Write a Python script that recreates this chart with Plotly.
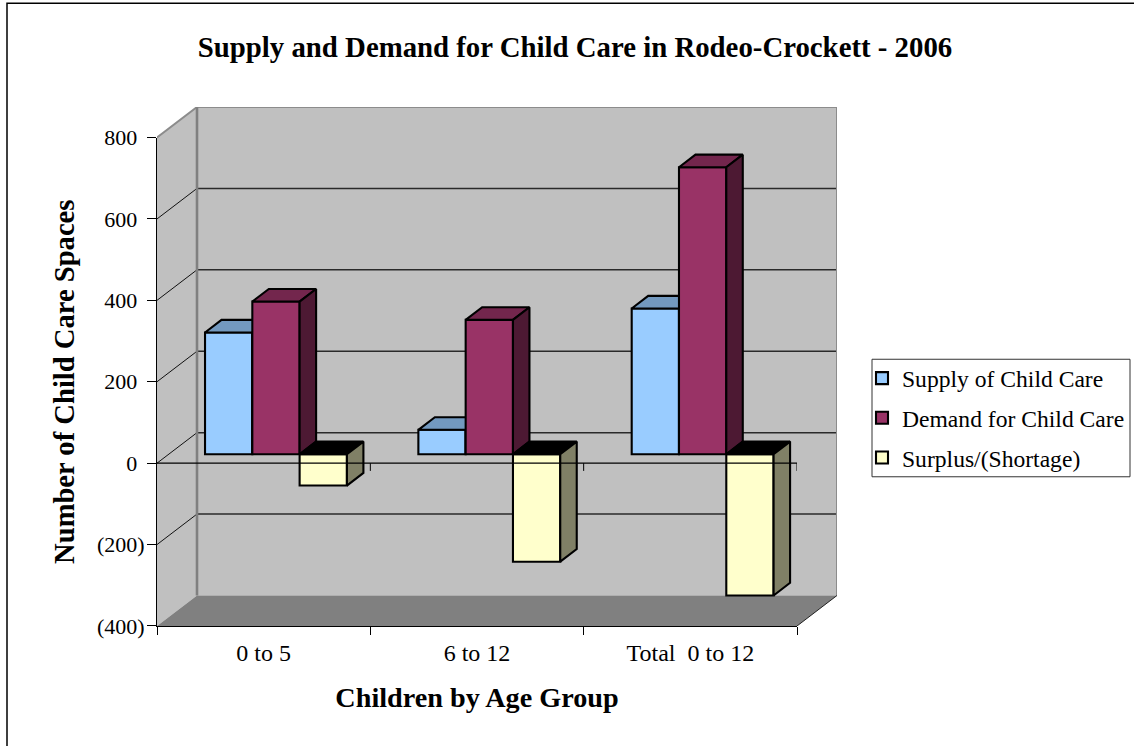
import plotly.graph_objects as go

# ---- data ----
categories = ["0 to 5", "6 to 12", "Total  0 to 12"]
supply = [299, 60, 358]
demand = [375, 330, 705]
surplus = [-77, -264, -347]
y_ticks = [800, 600, 400, 200, 0, -200, -400]
# positive labels keep a gap the width of ")" so the digits line up with the bracketed ones
y_tick_labels = ["800\u2004", "600\u2004", "400\u2004", "200\u2004", "0\u2004", "(200)", "(400)"]
series_names = ["Supply of Child Care", "Demand for Child Care", "Surplus/(Shortage)"]

# ---- style / projection (in axis units) ----
WALL_DX, WALL_DY = 0.1875, 75      # depth of chart box
BAR_DX, BAR_DY = 0.0577, 22        # bars stand in the middle of the box
DEPTH_DX, DEPTH_DY = 0.0773, 31    # depth of each bar
BAR_W = 0.2217
FONT = "Liberation Serif"
front = ["#99CCFF", "#993366", "#FFFFCC"]
top = ["#7399BF", "#73264D", "#000000"]
side = ["#4D6680", "#4D1933", "#808066"]
YMIN, YMAX = y_ticks[-1], y_ticks[0]
N = len(categories)

# page layout, in pixels
W, H = 1134, 746
L, AXIS_R, AXIS_B, AXIS_T = 157, 797, 625.7, 137.3
axis_w, axis_h = AXIS_R - L, AXIS_B - AXIS_T
box_w = axis_w * (N + WALL_DX) / N
box_h = axis_h * (YMAX - YMIN + WALL_DY) / (YMAX - YMIN)
box_t = AXIS_B - box_h


def px(x):
    return (x - L) / box_w


def py(y):
    return (AXIS_B - y) / box_h


fig = go.Figure()


def poly(xs, ys, color, axes=("x", "y"), line="#000000", w=0):
    fig.add_trace(go.Scatter(x=xs, y=ys, mode="lines", fill="toself" if color else None,
                             fillcolor=color, line=dict(color=line, width=w),
                             xaxis=axes[0], yaxis=axes[1], showlegend=False,
                             hoverinfo="skip", cliponaxis=False))


# walls and floor
poly([0, WALL_DX, WALL_DX, 0, 0], [YMIN, YMIN + WALL_DY, YMAX + WALL_DY, YMAX, YMIN], "#C0C0C0")
poly([WALL_DX, N + WALL_DX, N + WALL_DX, WALL_DX, WALL_DX],
     [YMIN + WALL_DY, YMIN + WALL_DY, YMAX + WALL_DY, YMAX + WALL_DY, YMIN + WALL_DY], "#C0C0C0")
poly([0, N, N + WALL_DX, WALL_DX, 0], [YMIN, YMIN, YMIN + WALL_DY, YMIN + WALL_DY, YMIN], "#808080")

# grid
for v in y_ticks[1:-1]:
    poly([0, WALL_DX], [v, v + WALL_DY], None, line="#111111", w=1)
    poly([WALL_DX, N + WALL_DX], [v + WALL_DY, v + WALL_DY], None, line="#2A2A2A", w=1.5)

# wall edges
poly([0, WALL_DX, N + WALL_DX, N + WALL_DX], [YMAX, YMAX + WALL_DY, YMAX + WALL_DY, YMIN + WALL_DY],
     None, line="#8C8C8C", w=2)
poly([WALL_DX, WALL_DX], [YMAX + WALL_DY, YMIN + WALL_DY], None, line="#808080", w=2.6)
poly([N, N + WALL_DX], [YMIN, YMIN + WALL_DY], None, line="#222222", w=1)

# bars: each series sits in its own overlaid subplot so later series cover earlier ones
for s, values in enumerate([supply, demand, surplus]):
    ax = (f"x{s + 2}", f"y{s + 2}")
    lefts = [i + 0.5 - 1.5 * BAR_W + s * BAR_W + BAR_DX for i in range(N)]
    fig.add_trace(go.Bar(
        x=[l + BAR_W / 2 for l in lefts], y=values, base=[BAR_DY] * N, width=BAR_W,
        name=series_names[s], legendgroup=series_names[s],
        marker=dict(color=front[s], line=dict(color="#000000", width=2.1)),
        xaxis=ax[0], yaxis=ax[1], cliponaxis=False, hoverinfo="skip"))
    tx, ty, sx, sy = [], [], [], []
    for l, v in zip(lefts, values):
        hi = BAR_DY + max(v, 0)
        lo = BAR_DY + min(v, 0)
        r = l + BAR_W
        tx += [l, l + DEPTH_DX, r + DEPTH_DX, r, l, None]
        ty += [hi, hi + DEPTH_DY, hi + DEPTH_DY, hi, hi, None]
        sx += [r, r + DEPTH_DX, r + DEPTH_DX, r, r, None]
        sy += [lo, lo + DEPTH_DY, hi + DEPTH_DY, hi, lo, None]
    poly(tx, ty, top[s], ax, w=2.1)
    poly(sx, sy, side[s], ax, w=2.1)

# zero axis with its ticks, in front of the bars, on the real (front plane) axes
real = ("x5", "y5")
poly([0, N], [0, 0], None, real, w=1.2)
for i in range(1, N + 1):
    poly([i, i], [0, -19], None, real, w=1)

hidden = dict(showgrid=False, zeroline=False, visible=False)
box_x = dict(domain=[0, 1], range=[0, N + WALL_DX], **hidden)
box_y = dict(domain=[0, 1], range=[YMIN, YMAX + WALL_DY], **hidden)
fig.update_layout(
    width=W, height=H, autosize=False,
    margin=dict(l=L, r=W - L - box_w, t=box_t, b=H - AXIS_B, pad=0, autoexpand=False),
    paper_bgcolor="#FFFFFF", plot_bgcolor="rgba(0,0,0,0)",
    font=dict(family=FONT, size=24, color="#000000"),
    barmode="overlay", showlegend=True,
    title=dict(text="<b>Supply and Demand for Child Care in Rodeo-Crockett - 2006</b>",
               font=dict(family=FONT, size=28.8, color="#000000"),
               x=575 / W, xref="container", xanchor="center",
               y=1 - 47 / H, yref="container", yanchor="middle"),
    xaxis=box_x, yaxis=box_y,
    xaxis2=dict(overlaying="x", range=[0, N + WALL_DX], **hidden),
    yaxis2=dict(overlaying="y", range=[YMIN, YMAX + WALL_DY], **hidden),
    xaxis3=dict(overlaying="x", range=[0, N + WALL_DX], **hidden),
    yaxis3=dict(overlaying="y", range=[YMIN, YMAX + WALL_DY], **hidden),
    xaxis4=dict(overlaying="x", range=[0, N + WALL_DX], **hidden),
    yaxis4=dict(overlaying="y", range=[YMIN, YMAX + WALL_DY], **hidden),
    # the real axes cover the front plane of the box
    xaxis5=dict(domain=[0, axis_w / box_w], anchor="y5", range=[0, N],
                tickvals=list(range(N + 1)), ticktext=[""] * (N + 1),
                ticks="outside", ticklen=8, tickcolor="#000000", tickwidth=1,
                showline=True, linecolor="#000000", linewidth=1, showgrid=False, zeroline=False,
                title=dict(text="<b>Children by Age Group</b>", standoff=48,
                           font=dict(family=FONT, size=28.2))),
    yaxis5=dict(domain=[0, axis_h / box_h], anchor="x5", range=[YMIN, YMAX],
                tickvals=y_ticks, ticktext=y_tick_labels,
                ticks="outside", ticklen=9, tickcolor="#000000", tickwidth=1,
                showline=True, linecolor="#000000", linewidth=1, showgrid=False, zeroline=False,
                tickfont=dict(family=FONT, size=22), ticklabelstandoff=-2,
                title=dict(text="<b>Number of Child Care Spaces</b>", standoff=13,
                           font=dict(family=FONT, size=28.6))),
    # category labels, centred between the tick marks
    xaxis6=dict(overlaying="x5", anchor="y5", range=[0, N],
                tickvals=[i + 0.5 for i in range(N)], ticktext=categories,
                ticks="", tickfont=dict(family=FONT, size=24), ticklabelstandoff=10,
                side="bottom", showgrid=False, zeroline=False),
    legend=dict(x=px(862), y=py(356), xanchor="left", yanchor="top",
                font=dict(family=FONT, size=23.6), tracegroupgap=6, borderwidth=0,
                bgcolor="rgba(0,0,0,0)"),
    shapes=[
        dict(type="rect", xref="paper", yref="paper",
             x0=px(872), x1=px(1130), y0=py(359), y1=py(476.5),
             line=dict(color="#333333", width=1)),
        dict(type="rect", xref="paper", yref="paper",
             x0=px(7), x1=px(1150), y0=py(3), y1=py(760),
             line=dict(color="#000000", width=1.5)),
    ],
)
# a trace that carries the category axis
fig.add_trace(go.Scatter(x=[0.5, 1.5, 2.5], y=[0, 0, 0], mode="none", xaxis="x6", yaxis="y5",
                         showlegend=False, hoverinfo="skip"))

fig.write_html("out.html", config={"displayModeBar": False},
               post_script="document.body.style.margin='0';")
